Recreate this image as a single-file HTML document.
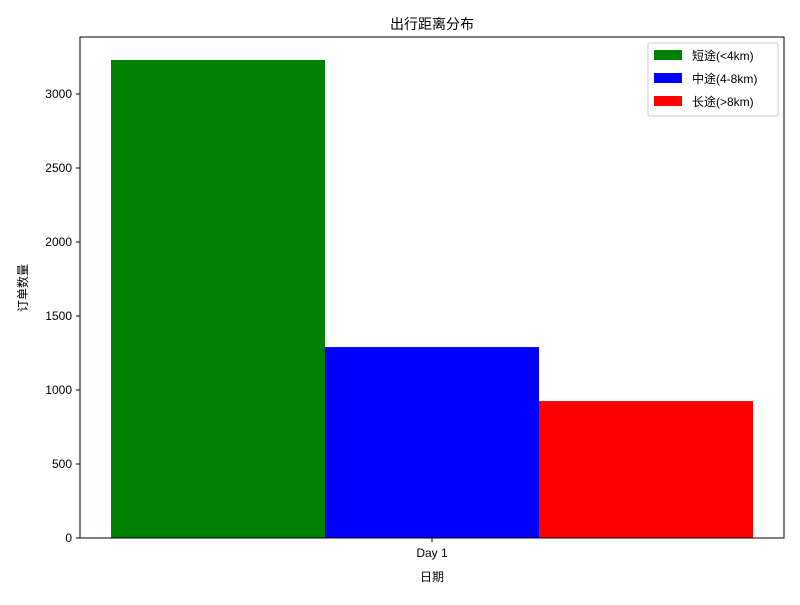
<!DOCTYPE html>
<html><head><meta charset="utf-8"><style>
body{margin:0;background:#fff;}
svg text{font-family:"Liberation Sans","Noto Sans CJK SC",sans-serif;fill:#000;}
</style></head><body>
<svg id="c" width="800" height="600">
<rect width="800" height="600" fill="#fff"/>
<text x="432" y="29" font-size="14" text-anchor="middle">出行距离分布</text>
<g id="bars"></g>
<g id="yticks"></g>
<rect x="80" y="37" width="704" height="501" fill="none" stroke="#000" stroke-width="1"/>
<line x1="432" y1="538" x2="432" y2="542" stroke="#000"/>
<text x="432" y="557" font-size="12" text-anchor="middle">Day 1</text>
<text x="432" y="581" font-size="12" text-anchor="middle">日期</text>
<text transform="translate(27,288) rotate(-90)" font-size="12" text-anchor="middle">订单数量</text>
<g>
<rect x="648" y="43" width="130" height="73" fill="#fff" stroke="#ccc" rx="2"/>
<rect x="654" y="50" width="28" height="10" fill="green"/>
<text x="692" y="60" font-size="12">短途(&lt;4km)</text>
<rect x="654" y="73" width="28" height="10" fill="blue"/>
<text x="692" y="83" font-size="12">中途(4-8km)</text>
<rect x="654" y="96" width="28" height="10" fill="red"/>
<text x="692" y="106" font-size="12">长途(&gt;8km)</text>
</g>
</svg>
<script>
const seriesNames=["short","medium","long"];
const seriesValues=[3230,1290,925];
const seriesColors=["green","blue","red"];
const yTicks=[0,500,1000,1500,2000,2500,3000];
const y0=538,scale=0.148;
function yPos(v){return y0-v*scale;}
function xPos(i){return 111+i*214;}
const NS="http://www.w3.org/2000/svg";
const bars=document.getElementById('bars');
seriesValues.forEach((v,i)=>{
 const r=document.createElementNS(NS,'rect');
 r.setAttribute('x',xPos(i));r.setAttribute('width',214);
 r.setAttribute('y',yPos(v));r.setAttribute('height',y0-yPos(v));
 r.setAttribute('fill',seriesColors[i]);
 
 
 bars.appendChild(r);
});
const yt=document.getElementById('yticks');
yTicks.forEach(t=>{
 const y=yPos(t);
 const l=document.createElementNS(NS,'line');
 l.setAttribute('x1',76);l.setAttribute('x2',80);l.setAttribute('y1',y);l.setAttribute('y2',y);l.setAttribute('stroke','#000');
 
 
 yt.appendChild(l);
 const tx=document.createElementNS(NS,'text');
 tx.setAttribute('x',72);tx.setAttribute('y',y+4);tx.setAttribute('font-size','12');tx.setAttribute('text-anchor','end');
 tx.textContent=t;
 
 
 yt.appendChild(tx);
});
</script>
</body></html>
